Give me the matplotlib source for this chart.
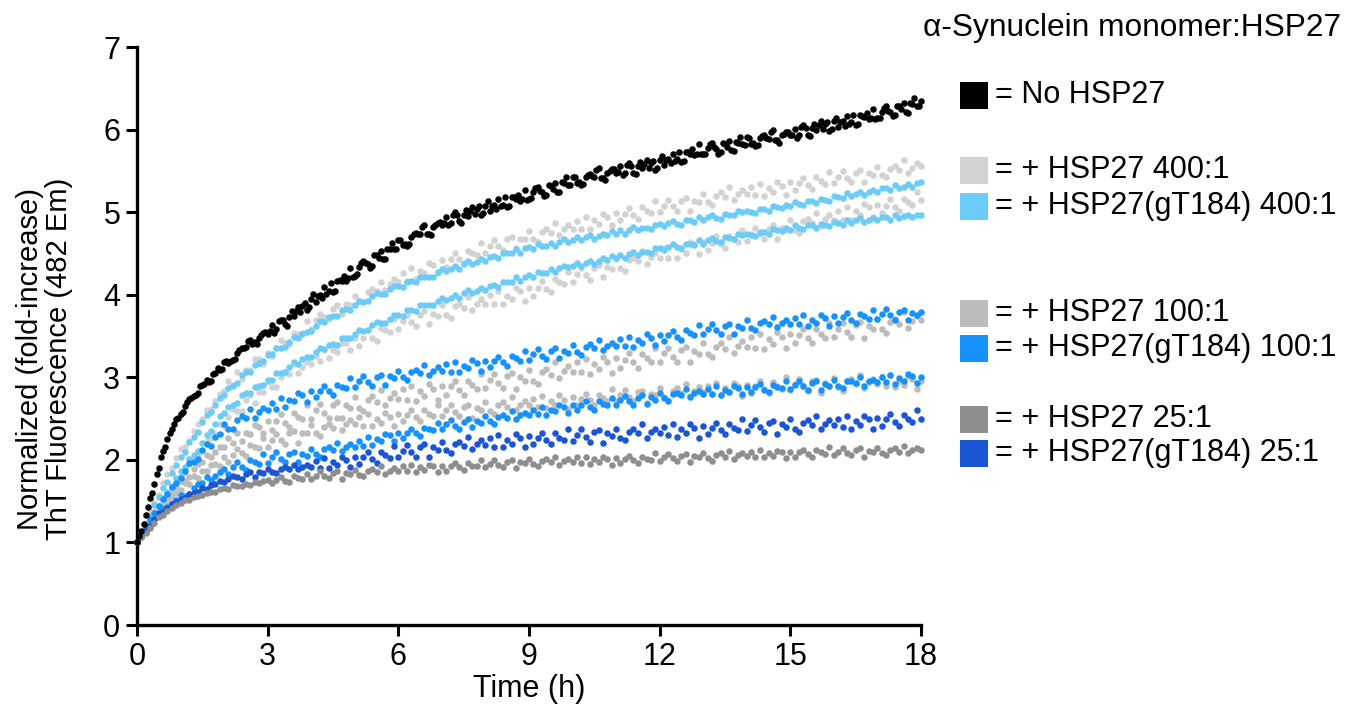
import numpy as np
import matplotlib
matplotlib.use("Agg")
import matplotlib.pyplot as plt
from matplotlib.patches import Rectangle

plt.rcParams['font.family'] = ['Liberation Sans', 'DejaVu Sans']

# sampling times (h), every 0.1 h from 0 to 18 (second black replicate read between)
time_h = np.round(np.arange(0, 18.0001, 0.1), 2)
time_h_mid = np.round(np.arange(0.05, 18.0, 0.1), 2)

no_hsp27 = [
 1.00,1.14,1.33,1.54,1.71,1.90,2.11,2.25,2.37,2.50,
 2.55,2.65,2.74,2.77,2.81,2.91,2.97,2.96,3.05,3.09,
 3.18,3.17,3.21,3.29,3.35,3.37,3.45,3.43,3.48,3.54,
 3.53,3.63,3.59,3.70,3.64,3.73,3.74,3.85,3.86,3.82,
 3.95,3.91,4.00,4.09,4.04,4.03,4.17,4.17,4.17,4.32,
 4.23,4.33,4.41,4.37,4.35,4.48,4.53,4.43,4.55,4.55,
 4.66,4.60,4.59,4.70,4.75,4.73,4.84,4.74,4.82,4.87,
 4.85,4.94,4.87,5.00,4.89,4.97,4.95,5.06,5.04,4.96,
 5.08,5.02,5.09,5.16,5.09,5.06,5.18,5.16,5.14,5.27,
 5.16,5.24,5.31,5.24,5.21,5.32,5.35,5.24,5.35,5.33,
 5.43,5.35,5.33,5.43,5.46,5.43,5.53,5.41,5.48,5.52,
 5.48,5.56,5.48,5.60,5.48,5.56,5.53,5.63,5.60,5.51,
 5.63,5.57,5.64,5.71,5.64,5.61,5.73,5.71,5.69,5.82,
 5.71,5.78,5.84,5.77,5.73,5.83,5.86,5.74,5.84,5.82,
 5.91,5.83,5.80,5.90,5.93,5.89,5.99,5.87,5.93,5.97,
 5.93,6.01,5.93,6.06,5.94,6.02,5.99,6.10,6.07,5.98,
 6.10,6.03,6.10,6.16,6.09,6.06,6.18,6.15,6.13,6.25,
 6.14,6.21,6.28,6.21,6.18,6.28,6.32,6.20,6.31,6.29,
 6.35]

no_hsp27_b = [
 1.08,1.22,1.43,1.60,1.83,2.03,2.16,2.32,2.43,2.51,
 2.58,2.70,2.75,2.78,2.89,2.92,2.94,3.04,3.11,3.10,
 3.20,3.20,3.22,3.33,3.36,3.44,3.40,3.40,3.51,3.55,
 3.56,3.54,3.68,3.70,3.62,3.80,3.80,3.79,3.90,3.85,
 4.01,3.98,3.96,4.01,4.14,4.05,4.18,4.23,4.20,4.21,
 4.25,4.38,4.38,4.32,4.48,4.45,4.43,4.55,4.63,4.55,
 4.66,4.62,4.61,4.73,4.73,4.82,4.73,4.72,4.85,4.88,
 4.87,4.84,4.97,4.97,4.87,5.03,5.01,4.98,5.07,4.99,
 5.13,5.08,5.04,5.07,5.18,5.07,5.18,5.21,5.16,5.15,
 5.17,5.29,5.26,5.19,5.33,5.28,5.25,5.36,5.42,5.33,
 5.42,5.37,5.34,5.45,5.44,5.51,5.41,5.39,5.50,5.52,
 5.49,5.45,5.57,5.56,5.46,5.61,5.58,5.54,5.62,5.54,
 5.68,5.63,5.59,5.62,5.73,5.62,5.73,5.76,5.71,5.70,
 5.71,5.82,5.79,5.71,5.84,5.79,5.75,5.85,5.91,5.81,
 5.90,5.84,5.81,5.92,5.90,5.97,5.87,5.84,5.95,5.97,
 5.94,5.90,6.03,6.02,5.92,6.07,6.05,6.01,6.09,6.01,
 6.14,6.09,6.04,6.07,6.18,6.07,6.17,6.20,6.14,6.13,
 6.14,6.26,6.23,6.16,6.29,6.25,6.21,6.32,6.38,6.29]

hsp27_400_a = [
 1.00,1.13,1.23,1.38,1.48,1.58,1.72,1.83,1.90,2.02,
 2.13,2.16,2.23,2.35,2.44,2.50,2.61,2.62,2.71,2.80,
 2.83,2.95,2.91,3.06,2.98,3.09,3.09,3.22,3.22,3.16,
 3.30,3.26,3.36,3.45,3.41,3.40,3.54,3.53,3.54,3.68,
 3.59,3.69,3.77,3.73,3.71,3.83,3.88,3.77,3.89,3.88,
 3.99,3.93,3.91,4.03,4.07,4.05,4.16,4.06,4.13,4.19,
 4.16,4.26,4.17,4.32,4.19,4.29,4.26,4.39,4.36,4.26,
 4.42,4.34,4.43,4.50,4.43,4.39,4.53,4.50,4.48,4.63,
 4.50,4.59,4.66,4.59,4.54,4.67,4.70,4.56,4.68,4.67,
 4.77,4.67,4.64,4.76,4.80,4.75,4.87,4.72,4.80,4.85,
 4.80,4.89,4.80,4.94,4.80,4.90,4.86,4.98,4.94,4.84,
 4.99,4.90,4.98,5.05,4.97,4.92,5.06,5.02,4.99,5.14,
 5.00,5.08,5.15,5.07,5.02,5.14,5.17,5.02,5.14,5.12,
 5.22,5.12,5.09,5.20,5.24,5.18,5.30,5.15,5.22,5.27,
 5.22,5.31,5.21,5.34,5.20,5.29,5.25,5.37,5.32,5.21,
 5.36,5.27,5.35,5.41,5.33,5.28,5.42,5.38,5.34,5.49,
 5.35,5.43,5.50,5.41,5.36,5.48,5.51,5.36,5.47,5.45,
 5.55,5.45,5.42,5.52,5.56,5.51,5.63,5.48,5.54,5.59,
 5.56]

hsp27_400_b = [
 1.00,1.08,1.18,1.26,1.33,1.44,1.50,1.57,1.66,1.73,
 1.82,1.84,1.95,2.04,2.07,2.11,2.23,2.27,2.31,2.43,
 2.41,2.52,2.62,2.59,2.59,2.73,2.79,2.69,2.82,2.82,
 2.94,2.88,2.88,3.00,3.06,3.04,3.16,3.05,3.13,3.18,
 3.16,3.26,3.20,3.33,3.23,3.33,3.31,3.42,3.41,3.33,
 3.47,3.38,3.48,3.57,3.48,3.44,3.60,3.57,3.55,3.71,
 3.58,3.68,3.75,3.67,3.62,3.75,3.80,3.64,3.77,3.74,
 3.87,3.76,3.72,3.86,3.89,3.84,3.97,3.81,3.89,3.95,
 3.89,4.00,3.89,4.05,3.89,3.99,3.95,4.08,4.05,3.93,
 4.08,3.99,4.08,4.17,4.07,4.03,4.19,4.15,4.13,4.28,
 4.15,4.25,4.32,4.24,4.18,4.32,4.36,4.21,4.33,4.31,
 4.43,4.32,4.29,4.42,4.45,4.41,4.53,4.37,4.46,4.51,
 4.45,4.56,4.45,4.61,4.45,4.55,4.51,4.64,4.61,4.49,
 4.64,4.54,4.63,4.71,4.61,4.56,4.71,4.67,4.64,4.79,
 4.65,4.74,4.81,4.73,4.67,4.80,4.84,4.68,4.81,4.78,
 4.90,4.79,4.75,4.89,4.92,4.87,4.99,4.83,4.92,4.97,
 4.91,5.02,4.91,5.06,4.90,5.01,4.97,5.10,5.06,4.94,
 5.09,4.99,5.08,5.16,5.06,5.01,5.16,5.12,5.09,5.24,
 5.15]

gt184_400_a = [
 1.00,1.12,1.22,1.32,1.45,1.55,1.66,1.73,1.84,1.94,
 2.03,2.10,2.22,2.28,2.34,2.46,2.54,2.58,2.66,2.75,
 2.79,2.87,2.90,2.93,3.03,3.06,3.07,3.15,3.17,3.20,
 3.27,3.28,3.35,3.36,3.37,3.43,3.49,3.47,3.53,3.55,
 3.56,3.62,3.68,3.67,3.73,3.74,3.74,3.81,3.83,3.82,
 3.88,3.92,3.91,3.92,3.98,4.02,4.01,4.01,4.07,4.11,
 4.10,4.09,4.16,4.17,4.16,4.22,4.22,4.22,4.22,4.28,
 4.31,4.29,4.31,4.35,4.31,4.37,4.41,4.37,4.40,4.43,
 4.41,4.46,4.47,4.44,4.50,4.50,4.50,4.55,4.51,4.56,
 4.58,4.55,4.61,4.59,4.59,4.63,4.59,4.64,4.67,4.64,
 4.66,4.70,4.66,4.70,4.72,4.67,4.71,4.74,4.72,4.77,
 4.74,4.78,4.74,4.79,4.82,4.78,4.81,4.81,4.80,4.85,
 4.86,4.83,4.87,4.89,4.86,4.85,4.91,4.91,4.88,4.94,
 4.90,4.94,4.97,4.93,4.92,4.98,4.97,4.96,5.01,5.00,
 5.02,5.00,4.99,5.04,5.04,5.02,5.08,5.06,5.05,5.09,
 5.07,5.12,5.10,5.09,5.14,5.14,5.11,5.16,5.15,5.14,
 5.19,5.18,5.17,5.23,5.20,5.22,5.25,5.21,5.24,5.27,
 5.25,5.29,5.29,5.27,5.33,5.29,5.31,5.34,5.31,5.35,
 5.36]

gt184_400_b = [
 1.00,1.10,1.17,1.27,1.37,1.44,1.54,1.61,1.68,1.78,
 1.86,1.91,2.01,2.06,2.11,2.21,2.30,2.35,2.44,2.53,
 2.57,2.64,2.67,2.69,2.79,2.81,2.81,2.88,2.89,2.91,
 2.97,2.97,3.05,3.05,3.07,3.13,3.18,3.16,3.22,3.24,
 3.25,3.31,3.35,3.34,3.39,3.40,3.39,3.47,3.48,3.48,
 3.53,3.57,3.56,3.57,3.63,3.67,3.66,3.66,3.71,3.76,
 3.75,3.74,3.81,3.82,3.80,3.87,3.87,3.87,3.87,3.93,
 3.96,3.94,3.96,4.00,3.96,4.02,4.06,4.02,4.05,4.08,
 4.06,4.11,4.12,4.09,4.16,4.15,4.15,4.21,4.17,4.22,
 4.24,4.21,4.28,4.26,4.26,4.31,4.27,4.32,4.35,4.33,
 4.35,4.39,4.35,4.39,4.41,4.37,4.41,4.44,4.42,4.47,
 4.44,4.48,4.44,4.49,4.52,4.48,4.52,4.52,4.51,4.56,
 4.57,4.54,4.58,4.61,4.58,4.56,4.62,4.62,4.60,4.66,
 4.62,4.66,4.69,4.65,4.64,4.70,4.69,4.68,4.73,4.72,
 4.74,4.72,4.71,4.76,4.76,4.74,4.80,4.78,4.77,4.81,
 4.79,4.84,4.81,4.80,4.84,4.84,4.81,4.86,4.85,4.83,
 4.88,4.87,4.85,4.91,4.87,4.90,4.93,4.88,4.91,4.93,
 4.91,4.94,4.94,4.91,4.97,4.93,4.95,4.97,4.94,4.97,
 4.96]

hsp27_100_a = [
 1.00,1.09,1.16,1.23,1.33,1.40,1.45,1.54,1.59,1.67,
 1.75,1.75,1.79,1.89,1.95,1.98,2.06,2.04,2.10,2.16,
 2.16,2.26,2.20,2.33,2.23,2.33,2.31,2.42,2.40,2.32,
 2.47,2.36,2.47,2.56,2.45,2.40,2.57,2.52,2.49,2.67,
 2.50,2.60,2.68,2.57,2.51,2.66,2.70,2.51,2.66,2.63,
 2.76,2.63,2.59,2.73,2.77,2.70,2.85,2.66,2.75,2.81,
 2.74,2.86,2.73,2.89,2.71,2.83,2.77,2.92,2.86,2.72,
 2.90,2.78,2.89,2.96,2.85,2.79,2.96,2.91,2.86,3.04,
 2.87,2.97,3.04,2.93,2.87,3.01,3.05,2.86,3.00,2.96,
 3.09,2.96,2.92,3.06,3.10,3.03,3.18,2.99,3.08,3.14,
 3.07,3.19,3.06,3.22,3.04,3.16,3.10,3.25,3.19,3.05,
 3.23,3.11,3.21,3.29,3.18,3.11,3.28,3.23,3.18,3.36,
 3.19,3.29,3.36,3.25,3.19,3.33,3.37,3.18,3.32,3.28,
 3.41,3.28,3.24,3.37,3.41,3.34,3.49,3.30,3.38,3.44,
 3.37,3.49,3.36,3.52,3.34,3.46,3.40,3.55,3.49,3.35,
 3.53,3.41,3.51,3.59,3.48,3.41,3.58,3.53,3.48,3.66,
 3.49,3.59,3.66,3.55,3.49,3.63,3.67,3.48,3.62,3.58,
 3.71,3.58,3.54,3.67,3.71,3.64,3.79,3.60,3.68,3.74,
 3.70]

hsp27_100_b = [
 1.00,1.07,1.17,1.23,1.32,1.37,1.43,1.50,1.53,1.60,
 1.64,1.72,1.71,1.81,1.78,1.86,1.86,1.94,1.95,1.93,
 2.03,1.97,2.06,2.13,2.08,2.05,2.18,2.15,2.14,2.26,
 2.15,2.24,2.31,2.24,2.19,2.32,2.35,2.21,2.33,2.32,
 2.42,2.32,2.29,2.40,2.44,2.39,2.51,2.36,2.43,2.48,
 2.43,2.52,2.41,2.55,2.41,2.49,2.45,2.57,2.52,2.41,
 2.56,2.47,2.54,2.61,2.52,2.47,2.61,2.56,2.53,2.67,
 2.53,2.60,2.67,2.58,2.53,2.64,2.67,2.51,2.63,2.60,
 2.70,2.59,2.56,2.66,2.70,2.64,2.76,2.60,2.67,2.71,
 2.66,2.74,2.64,2.77,2.63,2.71,2.66,2.78,2.73,2.62,
 2.76,2.66,2.74,2.80,2.72,2.66,2.79,2.75,2.71,2.86,
 2.71,2.78,2.85,2.76,2.71,2.82,2.84,2.69,2.80,2.78,
 2.87,2.76,2.73,2.83,2.87,2.81,2.92,2.77,2.83,2.88,
 2.82,2.90,2.80,2.93,2.78,2.87,2.82,2.93,2.89,2.77,
 2.91,2.81,2.89,2.95,2.86,2.81,2.94,2.89,2.86,3.00,
 2.85,2.92,2.98,2.90,2.84,2.95,2.97,2.81,2.93,2.90,
 2.99,2.88,2.84,2.95,2.98,2.92,3.03,2.87,2.94,2.98,
 2.92,3.00,2.89,3.03,2.88,2.96,2.91,3.02,2.98,2.86,
 2.96]

gt184_100_a = [
 1.00,1.10,1.17,1.28,1.36,1.44,1.53,1.59,1.67,1.72,
 1.78,1.87,1.96,1.98,2.01,2.12,2.19,2.17,2.28,2.31,
 2.44,2.38,2.37,2.48,2.53,2.51,2.62,2.51,2.58,2.63,
 2.60,2.69,2.62,2.75,2.64,2.73,2.71,2.81,2.79,2.70,
 2.83,2.76,2.83,2.90,2.83,2.79,2.91,2.88,2.87,2.99,
 2.88,2.95,3.01,2.94,2.90,3.00,3.03,2.91,3.01,2.99,
 3.08,3.00,2.97,3.06,3.09,3.05,3.15,3.03,3.08,3.12,
 3.08,3.16,3.07,3.19,3.07,3.14,3.11,3.21,3.17,3.08,
 3.20,3.13,3.20,3.25,3.18,3.14,3.26,3.23,3.20,3.32,
 3.21,3.28,3.34,3.26,3.22,3.32,3.35,3.23,3.32,3.30,
 3.39,3.31,3.27,3.37,3.40,3.35,3.45,3.33,3.38,3.42,
 3.38,3.46,3.38,3.49,3.37,3.45,3.42,3.52,3.48,3.39,
 3.51,3.44,3.51,3.56,3.49,3.45,3.57,3.54,3.51,3.63,
 3.52,3.59,3.64,3.57,3.53,3.62,3.65,3.53,3.62,3.60,
 3.69,3.60,3.57,3.66,3.68,3.64,3.73,3.61,3.66,3.69,
 3.65,3.72,3.64,3.75,3.62,3.70,3.66,3.76,3.72,3.62,
 3.74,3.66,3.73,3.78,3.70,3.66,3.77,3.74,3.71,3.82,
 3.71,3.77,3.83,3.75,3.70,3.79,3.82,3.69,3.78,3.76,
 3.79]

gt184_100_b = [
 1.00,1.08,1.13,1.22,1.28,1.34,1.40,1.43,1.46,1.52,
 1.58,1.56,1.59,1.66,1.71,1.72,1.79,1.76,1.80,1.85,
 1.89,1.83,1.91,1.97,1.91,1.88,2.00,1.97,1.95,2.07,
 1.96,2.03,2.09,2.01,1.97,2.07,2.10,1.98,2.07,2.05,
 2.13,2.07,2.04,2.13,2.15,2.12,2.20,2.11,2.16,2.19,
 2.16,2.23,2.17,2.28,2.18,2.25,2.23,2.31,2.30,2.23,
 2.32,2.27,2.33,2.38,2.32,2.29,2.39,2.37,2.36,2.45,
 2.37,2.43,2.48,2.41,2.38,2.46,2.49,2.40,2.47,2.45,
 2.53,2.47,2.44,2.52,2.54,2.51,2.59,2.50,2.54,2.57,
 2.54,2.61,2.55,2.64,2.54,2.61,2.59,2.67,2.64,2.57,
 2.66,2.61,2.66,2.71,2.64,2.61,2.71,2.68,2.67,2.75,
 2.67,2.73,2.77,2.71,2.67,2.75,2.78,2.68,2.76,2.73,
 2.81,2.75,2.71,2.80,2.81,2.78,2.86,2.76,2.81,2.83,
 2.80,2.86,2.80,2.89,2.79,2.85,2.82,2.90,2.87,2.80,
 2.88,2.82,2.88,2.92,2.85,2.82,2.91,2.88,2.87,2.95,
 2.86,2.91,2.96,2.89,2.85,2.93,2.95,2.85,2.92,2.90,
 2.97,2.90,2.87,2.95,2.96,2.93,3.00,2.90,2.95,2.97,
 2.94,3.00,2.94,3.03,2.92,2.99,2.96,3.04,3.01,2.93,
 3.00]

hsp27_25 = [
 1.00,1.07,1.12,1.17,1.24,1.31,1.33,1.38,1.42,1.45,
 1.48,1.51,1.51,1.55,1.56,1.57,1.60,1.61,1.61,1.65,
 1.66,1.65,1.69,1.68,1.68,1.71,1.69,1.73,1.72,1.75,
 1.76,1.72,1.76,1.79,1.75,1.73,1.80,1.78,1.77,1.83,
 1.77,1.81,1.86,1.80,1.78,1.84,1.86,1.77,1.84,1.83,
 1.88,1.82,1.80,1.86,1.89,1.85,1.92,1.83,1.87,1.90,
 1.87,1.92,1.86,1.94,1.85,1.91,1.88,1.94,1.92,1.85,
 1.93,1.87,1.93,1.96,1.91,1.88,1.96,1.93,1.92,2.00,
 1.91,1.95,2.00,1.94,1.91,1.98,2.00,1.90,1.98,1.96,
 2.01,1.95,1.92,1.99,2.01,1.97,2.04,1.94,1.99,2.01,
 1.98,2.03,1.96,2.04,1.95,2.01,1.98,2.04,2.01,1.94,
 2.02,1.96,2.01,2.05,2.00,1.96,2.04,2.01,2.00,2.08,
 1.99,2.03,2.07,2.02,1.99,2.05,2.07,1.97,2.05,2.03,
 2.08,2.02,1.99,2.06,2.08,2.04,2.11,2.01,2.06,2.08,
 2.05,2.10,2.03,2.12,2.03,2.08,2.05,2.11,2.09,2.02,
 2.10,2.04,2.09,2.12,2.07,2.04,2.12,2.09,2.07,2.15,
 2.06,2.10,2.14,2.08,2.06,2.12,2.14,2.04,2.11,2.09,
 2.14,2.08,2.06,2.12,2.14,2.10,2.17,2.08,2.12,2.14,
 2.12]

gt184_25 = [
 1.00,1.07,1.15,1.20,1.28,1.36,1.37,1.42,1.46,1.49,
 1.53,1.54,1.59,1.60,1.61,1.66,1.65,1.70,1.71,1.75,
 1.73,1.77,1.81,1.79,1.77,1.83,1.85,1.79,1.85,1.84,
 1.89,1.85,1.84,1.89,1.91,1.89,1.94,1.89,1.91,1.94,
 1.91,1.99,1.90,2.02,1.90,1.97,1.94,2.04,2.00,1.91,
 2.04,1.95,2.03,2.09,2.01,1.96,2.10,2.06,2.02,2.17,
 2.03,2.11,2.18,2.09,2.04,2.16,2.19,2.03,2.15,2.12,
 2.22,2.12,2.08,2.19,2.22,2.17,2.28,2.13,2.19,2.24,
 2.18,2.27,2.16,2.30,2.15,2.24,2.19,2.31,2.26,2.15,
 2.29,2.19,2.27,2.33,2.24,2.19,2.32,2.27,2.24,2.38,
 2.23,2.30,2.37,2.28,2.22,2.34,2.36,2.20,2.32,2.29,
 2.38,2.27,2.24,2.34,2.37,2.32,2.43,2.27,2.34,2.38,
 2.32,2.40,2.30,2.43,2.28,2.37,2.32,2.43,2.39,2.27,
 2.41,2.31,2.39,2.45,2.36,2.31,2.44,2.39,2.36,2.50,
 2.35,2.42,2.48,2.40,2.34,2.45,2.47,2.31,2.43,2.40,
 2.49,2.38,2.34,2.45,2.48,2.42,2.53,2.37,2.44,2.48,
 2.42,2.50,2.40,2.53,2.38,2.47,2.42,2.53,2.49,2.37,
 2.51,2.41,2.49,2.55,2.46,2.41,2.54,2.49,2.46,2.60,
 2.50]

legend_labels = ["= No HSP27", "= + HSP27 400:1", "= + HSP27(gT184) 400:1",
                 "= + HSP27 100:1", "= + HSP27(gT184) 100:1",
                 "= + HSP27 25:1", "= + HSP27(gT184) 25:1"]
legend_title = "α-Synuclein monomer:HSP27"
x_ticks = [0, 3, 6, 9, 12, 15, 18]
y_ticks = [0, 1, 2, 3, 4, 5, 6, 7]

C_BLACK = "#000000"
C_G400 = "#d2d2d2"
C_LB400 = "#6ccbf7"
C_G100 = "#bcbcbc"
C_B100 = "#1592fb"
C_G25 = "#8e8e8e"
C_B25 = "#1c55d3"
legend_colors = [C_BLACK, C_G400, C_LB400, C_G100, C_B100, C_G25, C_B25]

series = [
    (time_h, hsp27_400_b, C_G400), (time_h, gt184_400_b, C_LB400),
    (time_h, hsp27_400_a, C_G400), (time_h, gt184_400_a, C_LB400),
    (time_h, hsp27_100_a, C_G100), (time_h, hsp27_100_b, C_G100),
    (time_h, gt184_100_b, C_B100), (time_h, gt184_100_a, C_B100),
    (time_h, gt184_25, C_B25), (time_h, hsp27_25, C_G25),
    (time_h, no_hsp27, C_BLACK), (time_h_mid, no_hsp27_b, C_BLACK),
]

fig = plt.figure(figsize=(13.47, 7.06), dpi=100)
ax = fig.add_axes([0.1017, 0.1147, 0.5820, 0.8187])

for tt, vals, col in series:
    ax.scatter(tt, vals, s=22, color=col, linewidths=0, zorder=3, clip_on=False)

ax.set_xlim(0, 18)
ax.set_ylim(0, 7)
ax.set_xticks(x_ticks)
ax.set_yticks(y_ticks)
for side in ["top", "right"]:
    ax.spines[side].set_visible(False)
for side in ["left", "bottom"]:
    ax.spines[side].set_linewidth(2.4)
ax.tick_params(axis="both", direction="out", length=8, width=2.2, labelsize=22, pad=4)
ax.set_xlabel("Time (h)", fontsize=22, labelpad=2)
ax.set_ylabel("Normalized (fold-increase)\nThT Fluorescence (482 Em)", fontsize=21,
              linespacing=1.05)
ax.yaxis.set_label_coords(-0.082, 0.46)

# legend drawn as figure text and squares
W, H = 1347.0, 706.0
fig.text(1341 / W, 1 - 28 / H, legend_title, fontsize=22.8, ha="right", va="center")
rows_y = [95, 170, 206, 313, 348, 419, 453]
for lab, col, yy in zip(legend_labels, legend_colors, rows_y):
    fig.patches.append(Rectangle((960 / W, 1 - (yy + 14) / H), 28 / W, 27 / H,
                                 transform=fig.transFigure, facecolor=col,
                                 edgecolor="none"))
    fig.text(995 / W, 1 - yy / H, lab, fontsize=22, ha="left", va="center")

fig.savefig("out.png", dpi=100)
